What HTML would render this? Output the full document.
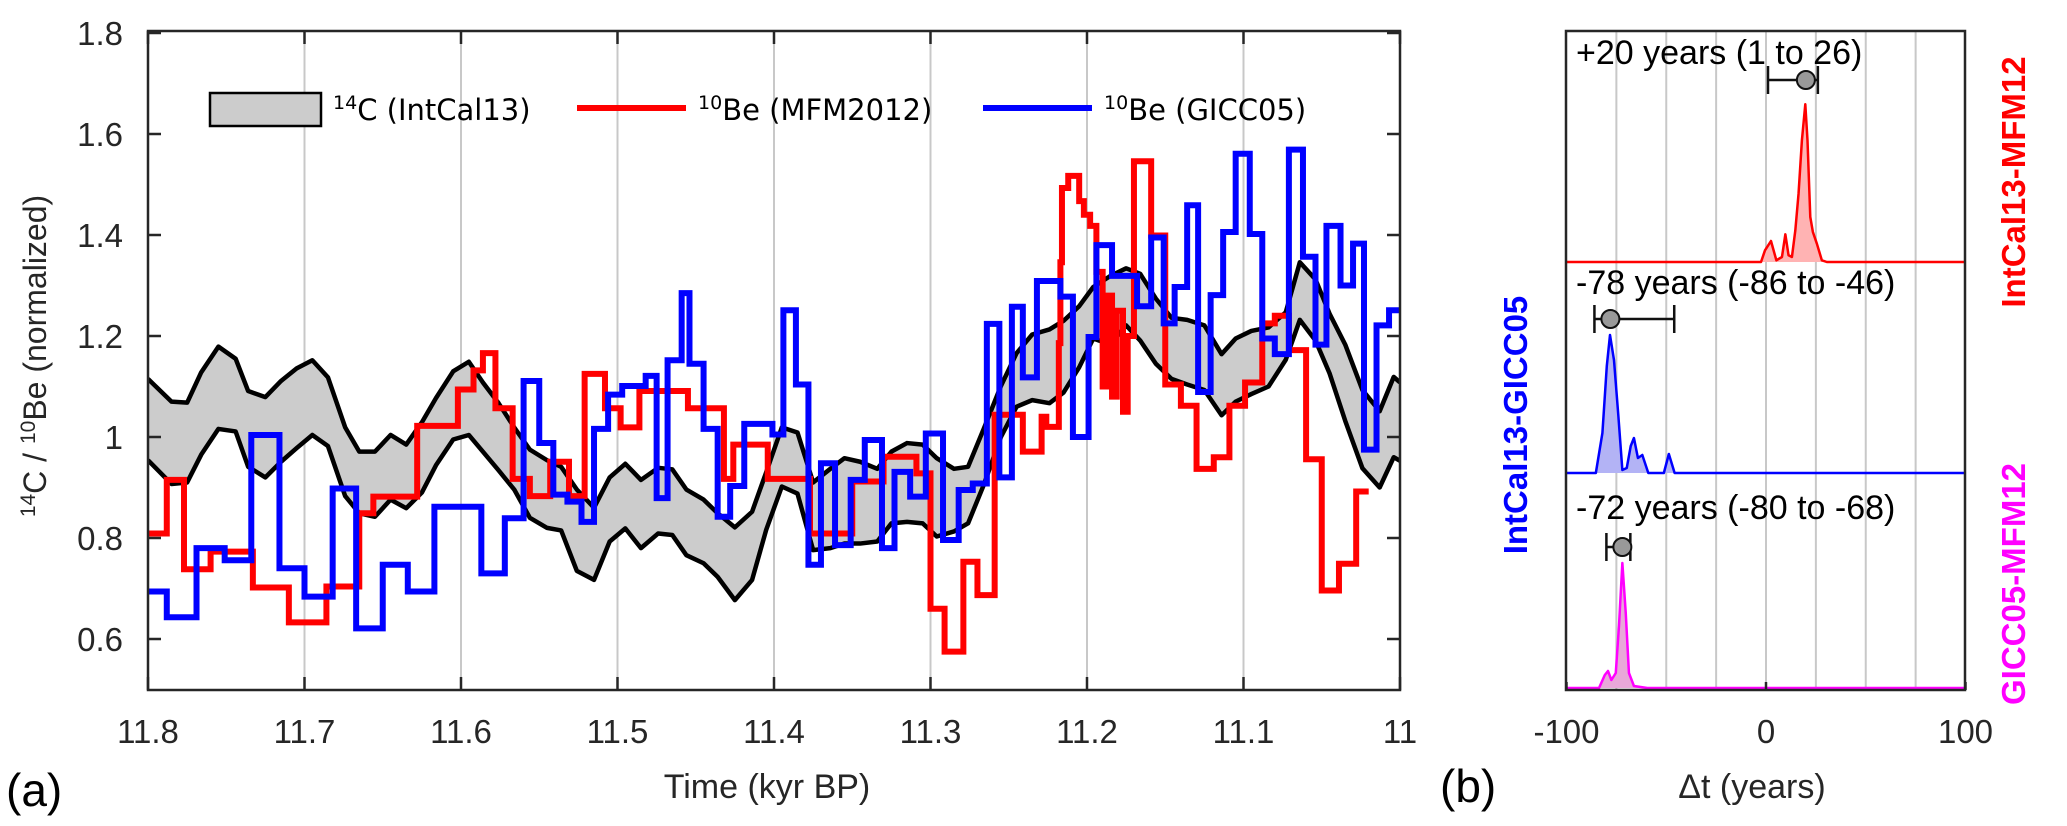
<!DOCTYPE html>
<html><head><meta charset="utf-8"><style>
html,body{margin:0;padding:0;background:#fff;}
svg{display:block;}
text{font-family:"Liberation Sans",Arial,sans-serif;}
</style></head><body>
<svg id="chart" width="2067" height="826" viewBox="0 0 2067 826" xmlns="http://www.w3.org/2000/svg">
<defs>
<clipPath id="clipA"><rect x="148" y="31" width="1252" height="659"/></clipPath>
<clipPath id="clipB"><rect x="1566" y="31" width="399" height="659"/></clipPath>
</defs>
<g id="panelA"></g>
<g id="panelB"></g>
</svg>
<script>
// ---------- Panel (a) data ----------
const envTimes = [11.800,11.785,11.775,11.766,11.755,11.744,11.736,11.725,11.715,11.705,11.695,11.685,11.674,11.665,11.655,11.645,11.635,11.625,11.616,11.605,11.595,11.586,11.576,11.566,11.556,11.545,11.536,11.526,11.515,11.505,11.495,11.485,11.474,11.465,11.456,11.445,11.436,11.425,11.414,11.405,11.395,11.385,11.375,11.364,11.355,11.345,11.334,11.325,11.315,11.305,11.296,11.285,11.276,11.266,11.255,11.245,11.235,11.224,11.215,11.205,11.196,11.185,11.175,11.166,11.156,11.146,11.136,11.125,11.114,11.105,11.095,11.084,11.073,11.064,11.054,11.045,11.035,11.024,11.013,11.004,11.000];
const envUpper = [1.115,1.070,1.068,1.128,1.179,1.155,1.091,1.079,1.111,1.136,1.152,1.118,1.019,0.971,0.971,1.004,0.985,1.029,1.077,1.130,1.149,1.108,1.067,1.019,0.975,0.954,0.941,0.896,0.860,0.920,0.947,0.915,0.939,0.936,0.896,0.876,0.849,0.821,0.852,0.930,1.019,1.009,0.910,0.937,0.958,0.951,0.937,0.971,0.988,0.985,0.958,0.937,0.941,1.016,1.101,1.166,1.203,1.213,1.230,1.259,1.297,1.319,1.334,1.323,1.274,1.236,1.232,1.221,1.164,1.195,1.210,1.217,1.247,1.346,1.312,1.244,1.183,1.093,1.051,1.119,1.108];
const envLower = [0.954,0.907,0.910,0.965,1.016,1.011,0.941,0.920,0.951,0.978,1.004,0.982,0.883,0.849,0.842,0.876,0.859,0.890,0.944,0.995,1.004,0.971,0.934,0.896,0.840,0.820,0.815,0.735,0.717,0.793,0.819,0.780,0.809,0.806,0.766,0.750,0.723,0.677,0.717,0.816,0.902,0.888,0.776,0.780,0.789,0.789,0.793,0.829,0.832,0.829,0.803,0.813,0.829,0.905,1.000,1.060,1.073,1.067,1.088,1.138,1.195,1.183,1.221,1.191,1.145,1.115,1.104,1.093,1.043,1.070,1.085,1.100,1.153,1.232,1.191,1.126,1.032,0.938,0.900,0.960,0.953];

const redEdges = [11.800,11.788,11.777,11.760,11.733,11.710,11.686,11.665,11.656,11.628,11.602,11.592,11.586,11.578,11.567,11.556,11.543,11.531,11.521,11.508,11.498,11.486,11.455,11.432,11.426,11.404,11.377,11.350,11.330,11.309,11.300,11.291,11.279,11.270,11.259,11.241,11.229,11.226,11.218,11.217,11.216,11.212,11.205,11.202,11.198,11.194,11.190,11.187,11.184,11.181,11.177,11.174,11.170,11.159,11.150,11.140,11.130,11.119,11.109,11.099,11.088,11.080,11.071,11.060,11.050,11.039,11.028,11.020];
const redValues = [0.809,0.915,0.738,0.773,0.702,0.633,0.704,0.849,0.882,1.022,1.094,1.132,1.166,1.057,0.917,0.883,0.951,0.883,1.125,1.057,1.019,1.091,1.057,0.917,0.985,0.917,0.809,0.912,0.961,0.928,0.660,0.575,0.753,0.687,1.044,0.971,1.040,1.020,1.186,1.346,1.493,1.517,1.467,1.440,1.418,1.327,1.100,1.280,1.080,1.250,1.050,1.200,1.546,1.399,1.104,1.062,0.937,0.960,1.062,1.108,1.225,1.240,1.172,0.956,0.696,0.749,0.892];

const blueEdges = [11.800,11.788,11.769,11.751,11.734,11.716,11.700,11.682,11.667,11.650,11.634,11.617,11.587,11.572,11.560,11.550,11.541,11.532,11.523,11.515,11.506,11.497,11.482,11.475,11.468,11.459,11.454,11.445,11.436,11.428,11.419,11.401,11.394,11.386,11.378,11.370,11.361,11.351,11.342,11.331,11.323,11.313,11.303,11.292,11.282,11.273,11.264,11.256,11.248,11.241,11.232,11.217,11.209,11.199,11.194,11.184,11.168,11.159,11.151,11.144,11.136,11.129,11.121,11.113,11.105,11.096,11.088,11.080,11.071,11.062,11.054,11.047,11.038,11.030,11.023,11.015,11.007,11.000];
const blueValues = [0.694,0.643,0.780,0.756,1.004,0.740,0.684,0.898,0.621,0.747,0.694,0.862,0.730,0.839,1.111,0.988,0.886,0.872,0.832,1.016,1.084,1.101,1.121,0.879,1.152,1.285,1.145,1.016,0.842,0.903,1.026,1.005,1.251,1.104,0.747,0.948,0.786,0.915,0.994,0.780,0.931,0.882,1.007,0.796,0.895,0.908,1.224,0.920,1.258,1.118,1.309,1.278,1.000,1.198,1.380,1.319,1.259,1.395,1.225,1.297,1.459,1.089,1.281,1.406,1.561,1.402,1.195,1.164,1.569,1.357,1.183,1.418,1.300,1.383,0.975,1.221,1.251];

const xTicksA = [11.8,11.7,11.6,11.5,11.4,11.3,11.2,11.1,11.0];
const xTickLabelsA = ["11.8","11.7","11.6","11.5","11.4","11.3","11.2","11.1","11"];
const yTicksA = [0.6,0.8,1.0,1.2,1.4,1.6,1.8];
const yTickLabelsA = ["0.6","0.8","1","1.2","1.4","1.6","1.8"];

// ---------- Panel (b) data ----------
const redPdfDt = [-2.5,-0.5,2.5,5.2,8,9.7,11.3,13,14.7,16.3,18,19.7,20.8,22.2,23.5,25.5,28,30.5];
const redPdfDens = [0,11.7,21,1.7,5,27.7,6.7,5,31.7,68,121.7,157.7,121.7,45,30,18.3,1.7,0];
const bluePdfDt = [-85.3,-82,-79.8,-78.2,-76.2,-74,-72,-69.8,-67.8,-66.2,-64.2,-62,-59,-51.2,-48.7,-45.8];
const bluePdfDens = [0,40,107,138,113,57,3,5,27,35,15,18,0,0,19,0];
const magPdfDt = [-83.7,-80.8,-79.2,-77.5,-75.3,-73.7,-72,-70.3,-68.7,-66.2,-59.5];
const magPdfDens = [0,13,17,8,15,62,125,75,15,2,0];
const estimates = [
  {best:20, lo:1, hi:26},
  {best:-78, lo:-86, hi:-46},
  {best:-72, lo:-80, hi:-68}
];
const estimateLabels = ["+20 years (1 to 26)","-78 years (-86 to -46)","-72 years (-80 to -68)"];
const xTicksB = [-100,0,100];
const xTickLabelsB = ["-100","0","100"];
const gridB = [-75,-50,-25,0,25,50,75];

// ---------- helpers ----------
const NS = "http://www.w3.org/2000/svg";
function mk(tag, attrs, parent){ const e=document.createElementNS(NS,tag); for(const k in attrs) e.setAttribute(k,attrs[k]); parent.appendChild(e); return e; }

const A = {x0:148, x1:1400, y0:31, y1:690};
function xA(t){ return A.x0 + (11.8 - t) * 1565; }
function yA(v){ return 437 - (v - 1) * 505; }

const gA = document.getElementById('panelA');

xTicksA.forEach((t,i)=>{
  if(i===0||i===xTicksA.length-1) return;
  const l = mk('line',{x1:xA(t),x2:xA(t),y1:A.y0,y2:A.y1,stroke:'#c8c8c8','stroke-width':2},gA);
  
  
});

const plotA = mk('g',{'clip-path':'url(#clipA)'},gA);



let pts = envTimes.map((t,i)=>xA(t)+','+yA(envUpper[i]));
let ptsL = envTimes.map((t,i)=>xA(t)+','+yA(envLower[i])).reverse();
const band = mk('polygon',{points:pts.concat(ptsL).join(' '),fill:'#cccccc',stroke:'none'},plotA);


const up = mk('polyline',{points:pts.join(' '),fill:'none',stroke:'#000','stroke-width':4.5,'stroke-linejoin':'round'},plotA);


const lo = mk('polyline',{points:envTimes.map((t,i)=>xA(t)+','+yA(envLower[i])).join(' '),fill:'none',stroke:'#000','stroke-width':4.5,'stroke-linejoin':'round'},plotA);



function stepPath(edges, vals){
  const n = Math.min(vals.length, edges.length-1);
  let d = 'M'+xA(edges[0])+' '+yA(vals[0]);
  for(let i=0;i<n;i++){
    if(i>0) d += ' V'+yA(vals[i]);
    d += ' H'+xA(edges[i+1]);
  }
  return d;
}
const red = mk('path',{d:stepPath(redEdges,redValues),fill:'none',stroke:'#ff0000','stroke-width':6,'stroke-linejoin':'miter'},plotA);


const blue = mk('path',{d:stepPath(blueEdges,blueValues),fill:'none',stroke:'#0000ff','stroke-width':6,'stroke-linejoin':'miter'},plotA);



const frA = mk('rect',{x:A.x0,y:A.y0,width:A.x1-A.x0,height:A.y1-A.y0,fill:'none',stroke:'#262626','stroke-width':2.5},gA);



xTicksA.forEach((t,i)=>{
  const x=xA(t);
  const tk = mk('path',{d:`M${x} ${A.y1} V${A.y1-13} M${x} ${A.y0} V${A.y0+13}`,stroke:'#262626','stroke-width':2.5},gA);
  
  
  const tx = mk('text',{x:x,y:743,'font-size':33,fill:'#262626','text-anchor':'middle'},gA);
  tx.textContent = xTickLabelsA[i];
  
  
});
yTicksA.forEach((v,i)=>{
  const y=yA(v);
  const tk = mk('path',{d:`M${A.x0} ${y} H${A.x0+13} M${A.x1} ${y} H${A.x1-13}`,stroke:'#262626','stroke-width':2.5},gA);
  
  
  const tx = mk('text',{x:123,y:y+12,'font-size':33,fill:'#262626','text-anchor':'end'},gA);
  tx.textContent = yTickLabelsA[i];
  
  
});
</script>
<script>
(function(){
const gA=document.getElementById('panelA');
gA.insertAdjacentHTML('beforeend',`
<text x="767" y="798" font-size="34" fill="#262626" text-anchor="middle">Time (kyr BP)</text>
<text transform="translate(46,356) rotate(-90)" font-size="32" fill="#262626" text-anchor="middle"><tspan font-size="21" dy="-11">14</tspan><tspan dy="11">C / </tspan><tspan font-size="21" dy="-11">10</tspan><tspan dy="11">Be (normalized)</tspan></text>
<text x="6" y="806" font-size="46" fill="#000">(a)</text>
<g>
 <rect x="210" y="93" width="111" height="33" fill="#cccccc" stroke="#000" stroke-width="2.5"/>
 <text x="333" y="120" font-size="29" fill="#000" style="font-family:'DejaVu Sans',sans-serif"><tspan font-size="19" dy="-11">14</tspan><tspan dy="11">C (IntCal13)</tspan></text>
 <line x1="577" x2="686" y1="108" y2="108" stroke="#ff0000" stroke-width="6"/>
 <text x="698" y="120" font-size="29" fill="#000" style="font-family:'DejaVu Sans',sans-serif"><tspan font-size="19" dy="-11">10</tspan><tspan dy="11">Be (MFM2012)</tspan></text>
 <line x1="983" x2="1092" y1="108" y2="108" stroke="#0000ff" stroke-width="6"/>
 <text x="1104" y="120" font-size="29" fill="#000" style="font-family:'DejaVu Sans',sans-serif"><tspan font-size="19" dy="-11">10</tspan><tspan dy="11">Be (GICC05)</tspan></text>
</g>`);
})();
</script>
<script>
const B = {x0:1566, x1:1965, y0:31, y1:690};
function xB(d){ return 1766 + d * 1.995; }
const subBase = [262, 473, 688];
const densScale = 1.0;
const gB = document.getElementById('panelB');

gridB.forEach(d=>{
  const l = mk('line',{x1:xB(d),x2:xB(d),y1:B.y0,y2:B.y1,stroke:'#c8c8c8','stroke-width':2},gB);
  
  
});

const pdfs = [
  {dt:redPdfDt, dens:redPdfDens, stroke:'#ff0000', fill:'#ffb3b3', name:'pdf-intcal13-mfm12'},
  {dt:bluePdfDt, dens:bluePdfDens, stroke:'#0000ff', fill:'#b3b3f5', name:'pdf-intcal13-gicc05'},
  {dt:magPdfDt, dens:magPdfDens, stroke:'#ff00ff', fill:'#e8a8d8', name:'pdf-gicc05-mfm12'}
];
const plotB = mk('g',{'clip-path':'url(#clipB)'},gB);


pdfs.forEach((p,k)=>{
  const base = subBase[k];
  const line = p.dt.map((d,i)=>xB(d)+','+(base - p.dens[i]*densScale));
  const area = mk('polygon',{points:[xB(p.dt[0])+','+base].concat(line,[xB(p.dt[p.dt.length-1])+','+base]).join(' '),fill:p.fill,stroke:'none'},plotB);
  
  
  const pl = mk('polyline',{points:[B.x0+','+base].concat(line,[B.x1+','+base]).join(' '),fill:'none',stroke:p.stroke,'stroke-width':2.5,'stroke-linejoin':'round'},plotB);
  
  
});

const textY = [64, 294, 519];
const barY = [80, 319, 547];
estimates.forEach((e,k)=>{
  const t = mk('text',{x:1576,y:textY[k],'font-size':34,fill:'#000'},gB);
  t.textContent = estimateLabels[k];
  
  
  const y = barY[k];
  const eb = mk('path',{d:`M${xB(e.lo)} ${y} H${xB(e.hi)} M${xB(e.lo)} ${y-14} V${y+14} M${xB(e.hi)} ${y-14} V${y+14}`,stroke:'#111','stroke-width':2.5,fill:'none'},gB);
  
  
  const c = mk('circle',{cx:xB(e.best),cy:y,r:9,fill:'#999',stroke:'#111','stroke-width':2},gB);
  
  
});

const frB = mk('rect',{x:B.x0,y:B.y0,width:B.x1-B.x0,height:B.y1-B.y0,fill:'none',stroke:'#262626','stroke-width':2.5},gB);


xTicksB.forEach((d,i)=>{
  const tk = mk('line',{x1:xB(d),x2:xB(d),y1:B.y1,y2:B.y1-8,stroke:'#262626','stroke-width':2.5},gB);
  
  
  const tx = mk('text',{x:xB(d),y:743,'font-size':33,fill:'#262626','text-anchor':'middle'},gB);
  tx.textContent = xTickLabelsB[i];
  
  
});
gB.insertAdjacentHTML('beforeend',`
<text x="1752" y="798" font-size="34" fill="#262626" text-anchor="middle">Δt (years)</text>
<text x="1440" y="802" font-size="46" fill="#000">(b)</text>
<text transform="translate(2025,182) rotate(-90)" font-size="33" font-weight="bold" fill="#ff0000" text-anchor="middle">IntCal13-MFM12</text>
<text transform="translate(2025,584) rotate(-90)" font-size="33" font-weight="bold" fill="#ff00ff" text-anchor="middle">GICC05-MFM12</text>
<text transform="translate(1527,425) rotate(-90)" font-size="33" font-weight="bold" fill="#0000ff" text-anchor="middle">IntCal13-GICC05</text>
`);
</script>
</body></html>
